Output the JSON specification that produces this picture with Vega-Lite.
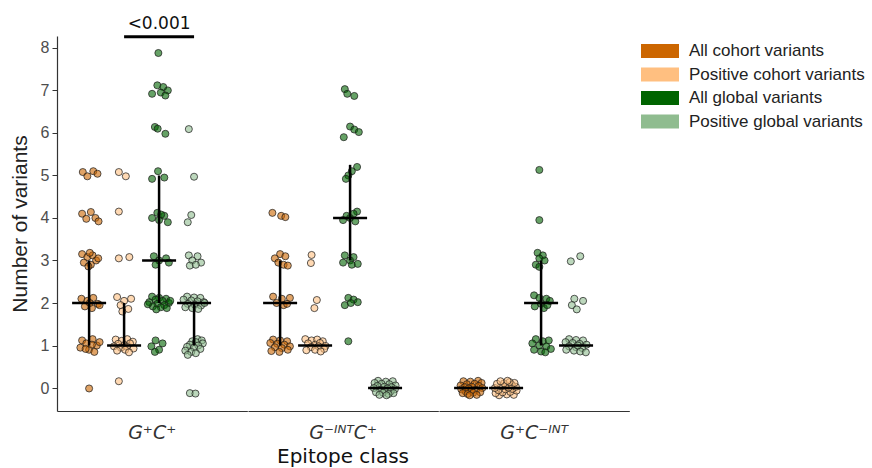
{
"$schema":"https://vega.github.io/schema/vega-lite/v6.json",
"padding":{"left":9,"top":14,"right":0,"bottom":0},
"background":"white",
"data":{"values":[
{"class":"G⁺C⁺","group":"All cohort variants","variants":5.08,"jitter":-0.18},
{"class":"G⁺C⁺","group":"All cohort variants","variants":4.98,"jitter":-0.05},
{"class":"G⁺C⁺","group":"All cohort variants","variants":5.1,"jitter":0.12},
{"class":"G⁺C⁺","group":"All cohort variants","variants":5.04,"jitter":0.24},
{"class":"G⁺C⁺","group":"All cohort variants","variants":4.1,"jitter":-0.2},
{"class":"G⁺C⁺","group":"All cohort variants","variants":3.98,"jitter":-0.08},
{"class":"G⁺C⁺","group":"All cohort variants","variants":4.14,"jitter":0.05},
{"class":"G⁺C⁺","group":"All cohort variants","variants":4.0,"jitter":0.18},
{"class":"G⁺C⁺","group":"All cohort variants","variants":3.92,"jitter":0.27},
{"class":"G⁺C⁺","group":"All cohort variants","variants":3.15,"jitter":-0.2},
{"class":"G⁺C⁺","group":"All cohort variants","variants":3.08,"jitter":-0.05},
{"class":"G⁺C⁺","group":"All cohort variants","variants":3.12,"jitter":0.1},
{"class":"G⁺C⁺","group":"All cohort variants","variants":3.0,"jitter":0.2},
{"class":"G⁺C⁺","group":"All cohort variants","variants":2.95,"jitter":-0.15},
{"class":"G⁺C⁺","group":"All cohort variants","variants":2.9,"jitter":0.05},
{"class":"G⁺C⁺","group":"All cohort variants","variants":3.05,"jitter":0.26},
{"class":"G⁺C⁺","group":"All cohort variants","variants":2.86,"jitter":-0.02},
{"class":"G⁺C⁺","group":"All cohort variants","variants":3.18,"jitter":0.02},
{"class":"G⁺C⁺","group":"All cohort variants","variants":2.1,"jitter":-0.22},
{"class":"G⁺C⁺","group":"All cohort variants","variants":2.05,"jitter":-0.05},
{"class":"G⁺C⁺","group":"All cohort variants","variants":2.12,"jitter":0.12},
{"class":"G⁺C⁺","group":"All cohort variants","variants":1.98,"jitter":0.25},
{"class":"G⁺C⁺","group":"All cohort variants","variants":1.92,"jitter":-0.12},
{"class":"G⁺C⁺","group":"All cohort variants","variants":1.88,"jitter":0.08},
{"class":"G⁺C⁺","group":"All cohort variants","variants":2.0,"jitter":0.02},
{"class":"G⁺C⁺","group":"All cohort variants","variants":1.95,"jitter":0.3},
{"class":"G⁺C⁺","group":"All cohort variants","variants":1.12,"jitter":-0.2},
{"class":"G⁺C⁺","group":"All cohort variants","variants":1.05,"jitter":-0.08},
{"class":"G⁺C⁺","group":"All cohort variants","variants":1.15,"jitter":0.1},
{"class":"G⁺C⁺","group":"All cohort variants","variants":1.0,"jitter":0.22},
{"class":"G⁺C⁺","group":"All cohort variants","variants":0.95,"jitter":-0.25},
{"class":"G⁺C⁺","group":"All cohort variants","variants":0.9,"jitter":0.0},
{"class":"G⁺C⁺","group":"All cohort variants","variants":0.85,"jitter":0.15},
{"class":"G⁺C⁺","group":"All cohort variants","variants":1.08,"jitter":0.3},
{"class":"G⁺C⁺","group":"All cohort variants","variants":0.92,"jitter":-0.1},
{"class":"G⁺C⁺","group":"All cohort variants","variants":1.02,"jitter":0.08},
{"class":"G⁺C⁺","group":"All cohort variants","variants":-0.01,"jitter":0.0},
{"class":"G⁺C⁺","group":"Positive cohort variants","variants":5.08,"jitter":-0.15},
{"class":"G⁺C⁺","group":"Positive cohort variants","variants":4.98,"jitter":0.05},
{"class":"G⁺C⁺","group":"Positive cohort variants","variants":4.15,"jitter":-0.15},
{"class":"G⁺C⁺","group":"Positive cohort variants","variants":3.05,"jitter":-0.15},
{"class":"G⁺C⁺","group":"Positive cohort variants","variants":3.08,"jitter":0.15},
{"class":"G⁺C⁺","group":"Positive cohort variants","variants":2.14,"jitter":-0.2},
{"class":"G⁺C⁺","group":"Positive cohort variants","variants":2.05,"jitter":0.0},
{"class":"G⁺C⁺","group":"Positive cohort variants","variants":2.1,"jitter":0.2},
{"class":"G⁺C⁺","group":"Positive cohort variants","variants":1.95,"jitter":-0.1},
{"class":"G⁺C⁺","group":"Positive cohort variants","variants":1.86,"jitter":0.12},
{"class":"G⁺C⁺","group":"Positive cohort variants","variants":1.8,"jitter":-0.05},
{"class":"G⁺C⁺","group":"Positive cohort variants","variants":1.14,"jitter":-0.24},
{"class":"G⁺C⁺","group":"Positive cohort variants","variants":1.11,"jitter":-0.07},
{"class":"G⁺C⁺","group":"Positive cohort variants","variants":1.15,"jitter":0.09},
{"class":"G⁺C⁺","group":"Positive cohort variants","variants":1.09,"jitter":0.25},
{"class":"G⁺C⁺","group":"Positive cohort variants","variants":1.04,"jitter":-0.17},
{"class":"G⁺C⁺","group":"Positive cohort variants","variants":1.01,"jitter":0.01},
{"class":"G⁺C⁺","group":"Positive cohort variants","variants":1.05,"jitter":0.17},
{"class":"G⁺C⁺","group":"Positive cohort variants","variants":0.98,"jitter":-0.29},
{"class":"G⁺C⁺","group":"Positive cohort variants","variants":0.95,"jitter":-0.09},
{"class":"G⁺C⁺","group":"Positive cohort variants","variants":0.97,"jitter":0.08},
{"class":"G⁺C⁺","group":"Positive cohort variants","variants":0.93,"jitter":0.27},
{"class":"G⁺C⁺","group":"Positive cohort variants","variants":0.88,"jitter":-0.2},
{"class":"G⁺C⁺","group":"Positive cohort variants","variants":0.9,"jitter":0.03},
{"class":"G⁺C⁺","group":"Positive cohort variants","variants":0.84,"jitter":0.14},
{"class":"G⁺C⁺","group":"Positive cohort variants","variants":0.16,"jitter":-0.15},
{"class":"G⁺C⁺","group":"All global variants","variants":7.88,"jitter":-0.02},
{"class":"G⁺C⁺","group":"All global variants","variants":7.12,"jitter":-0.05},
{"class":"G⁺C⁺","group":"All global variants","variants":7.08,"jitter":0.12},
{"class":"G⁺C⁺","group":"All global variants","variants":7.0,"jitter":0.25},
{"class":"G⁺C⁺","group":"All global variants","variants":6.92,"jitter":-0.2},
{"class":"G⁺C⁺","group":"All global variants","variants":6.95,"jitter":0.05},
{"class":"G⁺C⁺","group":"All global variants","variants":6.88,"jitter":0.18},
{"class":"G⁺C⁺","group":"All global variants","variants":6.14,"jitter":-0.12},
{"class":"G⁺C⁺","group":"All global variants","variants":6.1,"jitter":-0.04},
{"class":"G⁺C⁺","group":"All global variants","variants":5.98,"jitter":0.18},
{"class":"G⁺C⁺","group":"All global variants","variants":5.1,"jitter":-0.03},
{"class":"G⁺C⁺","group":"All global variants","variants":4.92,"jitter":-0.2},
{"class":"G⁺C⁺","group":"All global variants","variants":4.95,"jitter":0.15},
{"class":"G⁺C⁺","group":"All global variants","variants":4.12,"jitter":-0.05},
{"class":"G⁺C⁺","group":"All global variants","variants":4.05,"jitter":0.15},
{"class":"G⁺C⁺","group":"All global variants","variants":4.0,"jitter":-0.2},
{"class":"G⁺C⁺","group":"All global variants","variants":3.95,"jitter":0.0},
{"class":"G⁺C⁺","group":"All global variants","variants":3.9,"jitter":0.25},
{"class":"G⁺C⁺","group":"All global variants","variants":4.08,"jitter":0.06},
{"class":"G⁺C⁺","group":"All global variants","variants":3.1,"jitter":-0.15},
{"class":"G⁺C⁺","group":"All global variants","variants":3.05,"jitter":0.2},
{"class":"G⁺C⁺","group":"All global variants","variants":3.0,"jitter":0.0},
{"class":"G⁺C⁺","group":"All global variants","variants":2.9,"jitter":-0.1},
{"class":"G⁺C⁺","group":"All global variants","variants":2.95,"jitter":0.28},
{"class":"G⁺C⁺","group":"All global variants","variants":2.15,"jitter":-0.2},
{"class":"G⁺C⁺","group":"All global variants","variants":2.12,"jitter":0.0},
{"class":"G⁺C⁺","group":"All global variants","variants":2.1,"jitter":0.2},
{"class":"G⁺C⁺","group":"All global variants","variants":2.08,"jitter":-0.1},
{"class":"G⁺C⁺","group":"All global variants","variants":2.05,"jitter":0.1},
{"class":"G⁺C⁺","group":"All global variants","variants":2.02,"jitter":-0.28},
{"class":"G⁺C⁺","group":"All global variants","variants":2.0,"jitter":0.28},
{"class":"G⁺C⁺","group":"All global variants","variants":1.98,"jitter":-0.05},
{"class":"G⁺C⁺","group":"All global variants","variants":1.95,"jitter":0.15},
{"class":"G⁺C⁺","group":"All global variants","variants":1.92,"jitter":-0.18},
{"class":"G⁺C⁺","group":"All global variants","variants":1.9,"jitter":0.05},
{"class":"G⁺C⁺","group":"All global variants","variants":1.88,"jitter":0.22},
{"class":"G⁺C⁺","group":"All global variants","variants":1.85,"jitter":-0.08},
{"class":"G⁺C⁺","group":"All global variants","variants":2.05,"jitter":0.32},
{"class":"G⁺C⁺","group":"All global variants","variants":1.97,"jitter":-0.32},
{"class":"G⁺C⁺","group":"All global variants","variants":1.12,"jitter":-0.1},
{"class":"G⁺C⁺","group":"All global variants","variants":1.05,"jitter":0.1},
{"class":"G⁺C⁺","group":"All global variants","variants":0.98,"jitter":-0.22},
{"class":"G⁺C⁺","group":"All global variants","variants":0.9,"jitter":0.0},
{"class":"G⁺C⁺","group":"All global variants","variants":0.85,"jitter":-0.12},
{"class":"G⁺C⁺","group":"Positive global variants","variants":6.09,"jitter":-0.15},
{"class":"G⁺C⁺","group":"Positive global variants","variants":4.97,"jitter":0.0},
{"class":"G⁺C⁺","group":"Positive global variants","variants":4.07,"jitter":-0.08},
{"class":"G⁺C⁺","group":"Positive global variants","variants":3.9,"jitter":-0.18},
{"class":"G⁺C⁺","group":"Positive global variants","variants":3.12,"jitter":-0.15},
{"class":"G⁺C⁺","group":"Positive global variants","variants":3.1,"jitter":0.1},
{"class":"G⁺C⁺","group":"Positive global variants","variants":3.0,"jitter":-0.05},
{"class":"G⁺C⁺","group":"Positive global variants","variants":2.95,"jitter":0.2},
{"class":"G⁺C⁺","group":"Positive global variants","variants":2.88,"jitter":-0.12},
{"class":"G⁺C⁺","group":"Positive global variants","variants":2.9,"jitter":0.05},
{"class":"G⁺C⁺","group":"Positive global variants","variants":2.15,"jitter":-0.2},
{"class":"G⁺C⁺","group":"Positive global variants","variants":2.13,"jitter":0.0},
{"class":"G⁺C⁺","group":"Positive global variants","variants":2.12,"jitter":0.18},
{"class":"G⁺C⁺","group":"Positive global variants","variants":2.08,"jitter":-0.3},
{"class":"G⁺C⁺","group":"Positive global variants","variants":2.06,"jitter":-0.08},
{"class":"G⁺C⁺","group":"Positive global variants","variants":2.04,"jitter":0.1},
{"class":"G⁺C⁺","group":"Positive global variants","variants":2.02,"jitter":0.28},
{"class":"G⁺C⁺","group":"Positive global variants","variants":1.98,"jitter":-0.18},
{"class":"G⁺C⁺","group":"Positive global variants","variants":1.96,"jitter":0.02},
{"class":"G⁺C⁺","group":"Positive global variants","variants":1.94,"jitter":0.2},
{"class":"G⁺C⁺","group":"Positive global variants","variants":1.9,"jitter":-0.25},
{"class":"G⁺C⁺","group":"Positive global variants","variants":1.88,"jitter":-0.05},
{"class":"G⁺C⁺","group":"Positive global variants","variants":1.86,"jitter":0.12},
{"class":"G⁺C⁺","group":"Positive global variants","variants":2.0,"jitter":0.3},
{"class":"G⁺C⁺","group":"Positive global variants","variants":1.15,"jitter":0.1},
{"class":"G⁺C⁺","group":"Positive global variants","variants":1.12,"jitter":0.22},
{"class":"G⁺C⁺","group":"Positive global variants","variants":1.1,"jitter":-0.05},
{"class":"G⁺C⁺","group":"Positive global variants","variants":1.08,"jitter":0.05},
{"class":"G⁺C⁺","group":"Positive global variants","variants":1.05,"jitter":0.25},
{"class":"G⁺C⁺","group":"Positive global variants","variants":1.02,"jitter":-0.12},
{"class":"G⁺C⁺","group":"Positive global variants","variants":1.0,"jitter":0.12},
{"class":"G⁺C⁺","group":"Positive global variants","variants":0.97,"jitter":-0.2},
{"class":"G⁺C⁺","group":"Positive global variants","variants":0.95,"jitter":0.0},
{"class":"G⁺C⁺","group":"Positive global variants","variants":0.92,"jitter":0.18},
{"class":"G⁺C⁺","group":"Positive global variants","variants":0.88,"jitter":-0.25},
{"class":"G⁺C⁺","group":"Positive global variants","variants":0.85,"jitter":-0.08},
{"class":"G⁺C⁺","group":"Positive global variants","variants":0.82,"jitter":0.05},
{"class":"G⁺C⁺","group":"Positive global variants","variants":0.78,"jitter":-0.18},
{"class":"G⁺C⁺","group":"Positive global variants","variants":-0.12,"jitter":-0.12},
{"class":"G⁺C⁺","group":"Positive global variants","variants":-0.13,"jitter":0.04},
{"class":"G⁻ᴵᴺᵀC⁺","group":"All cohort variants","variants":4.12,"jitter":-0.22},
{"class":"G⁻ᴵᴺᵀC⁺","group":"All cohort variants","variants":4.05,"jitter":0.03},
{"class":"G⁻ᴵᴺᵀC⁺","group":"All cohort variants","variants":4.02,"jitter":0.15},
{"class":"G⁻ᴵᴺᵀC⁺","group":"All cohort variants","variants":3.15,"jitter":0.0},
{"class":"G⁻ᴵᴺᵀC⁺","group":"All cohort variants","variants":3.1,"jitter":0.15},
{"class":"G⁻ᴵᴺᵀC⁺","group":"All cohort variants","variants":3.05,"jitter":-0.15},
{"class":"G⁻ᴵᴺᵀC⁺","group":"All cohort variants","variants":2.95,"jitter":-0.05},
{"class":"G⁻ᴵᴺᵀC⁺","group":"All cohort variants","variants":2.9,"jitter":0.1},
{"class":"G⁻ᴵᴺᵀC⁺","group":"All cohort variants","variants":2.88,"jitter":0.22},
{"class":"G⁻ᴵᴺᵀC⁺","group":"All cohort variants","variants":2.15,"jitter":-0.2},
{"class":"G⁻ᴵᴺᵀC⁺","group":"All cohort variants","variants":2.1,"jitter":0.05},
{"class":"G⁻ᴵᴺᵀC⁺","group":"All cohort variants","variants":2.12,"jitter":0.28},
{"class":"G⁻ᴵᴺᵀC⁺","group":"All cohort variants","variants":2.0,"jitter":-0.1},
{"class":"G⁻ᴵᴺᵀC⁺","group":"All cohort variants","variants":1.95,"jitter":0.1},
{"class":"G⁻ᴵᴺᵀC⁺","group":"All cohort variants","variants":1.98,"jitter":0.2},
{"class":"G⁻ᴵᴺᵀC⁺","group":"All cohort variants","variants":1.14,"jitter":-0.2},
{"class":"G⁻ᴵᴺᵀC⁺","group":"All cohort variants","variants":1.12,"jitter":0.0},
{"class":"G⁻ᴵᴺᵀC⁺","group":"All cohort variants","variants":1.1,"jitter":0.2},
{"class":"G⁻ᴵᴺᵀC⁺","group":"All cohort variants","variants":1.06,"jitter":-0.28},
{"class":"G⁻ᴵᴺᵀC⁺","group":"All cohort variants","variants":1.04,"jitter":-0.08},
{"class":"G⁻ᴵᴺᵀC⁺","group":"All cohort variants","variants":1.02,"jitter":0.12},
{"class":"G⁻ᴵᴺᵀC⁺","group":"All cohort variants","variants":0.98,"jitter":0.28},
{"class":"G⁻ᴵᴺᵀC⁺","group":"All cohort variants","variants":0.96,"jitter":-0.15},
{"class":"G⁻ᴵᴺᵀC⁺","group":"All cohort variants","variants":0.94,"jitter":0.05},
{"class":"G⁻ᴵᴺᵀC⁺","group":"All cohort variants","variants":0.9,"jitter":0.22},
{"class":"G⁻ᴵᴺᵀC⁺","group":"All cohort variants","variants":0.87,"jitter":-0.25},
{"class":"G⁻ᴵᴺᵀC⁺","group":"All cohort variants","variants":0.85,"jitter":-0.02},
{"class":"G⁻ᴵᴺᵀC⁺","group":"Positive cohort variants","variants":3.13,"jitter":-0.1},
{"class":"G⁻ᴵᴺᵀC⁺","group":"Positive cohort variants","variants":2.94,"jitter":-0.12},
{"class":"G⁻ᴵᴺᵀC⁺","group":"Positive cohort variants","variants":2.07,"jitter":0.05},
{"class":"G⁻ᴵᴺᵀC⁺","group":"Positive cohort variants","variants":1.88,"jitter":-0.02},
{"class":"G⁻ᴵᴺᵀC⁺","group":"Positive cohort variants","variants":1.15,"jitter":-0.28},
{"class":"G⁻ᴵᴺᵀC⁺","group":"Positive cohort variants","variants":1.12,"jitter":-0.1},
{"class":"G⁻ᴵᴺᵀC⁺","group":"Positive cohort variants","variants":1.14,"jitter":0.06},
{"class":"G⁻ᴵᴺᵀC⁺","group":"Positive cohort variants","variants":1.1,"jitter":0.22},
{"class":"G⁻ᴵᴺᵀC⁺","group":"Positive cohort variants","variants":1.05,"jitter":-0.2},
{"class":"G⁻ᴵᴺᵀC⁺","group":"Positive cohort variants","variants":1.02,"jitter":0.0},
{"class":"G⁻ᴵᴺᵀC⁺","group":"Positive cohort variants","variants":1.06,"jitter":0.14},
{"class":"G⁻ᴵᴺᵀC⁺","group":"Positive cohort variants","variants":0.99,"jitter":0.3},
{"class":"G⁻ᴵᴺᵀC⁺","group":"Positive cohort variants","variants":0.96,"jitter":-0.12},
{"class":"G⁻ᴵᴺᵀC⁺","group":"Positive cohort variants","variants":0.98,"jitter":0.1},
{"class":"G⁻ᴵᴺᵀC⁺","group":"Positive cohort variants","variants":0.92,"jitter":0.26},
{"class":"G⁻ᴵᴺᵀC⁺","group":"Positive cohort variants","variants":0.89,"jitter":-0.25},
{"class":"G⁻ᴵᴺᵀC⁺","group":"Positive cohort variants","variants":0.9,"jitter":0.0},
{"class":"G⁻ᴵᴺᵀC⁺","group":"Positive cohort variants","variants":0.86,"jitter":0.16},
{"class":"G⁻ᴵᴺᵀC⁺","group":"All global variants","variants":7.03,"jitter":-0.15},
{"class":"G⁻ᴵᴺᵀC⁺","group":"All global variants","variants":6.87,"jitter":0.12},
{"class":"G⁻ᴵᴺᵀC⁺","group":"All global variants","variants":6.92,"jitter":-0.08},
{"class":"G⁻ᴵᴺᵀC⁺","group":"All global variants","variants":6.15,"jitter":0.0},
{"class":"G⁻ᴵᴺᵀC⁺","group":"All global variants","variants":6.08,"jitter":0.12},
{"class":"G⁻ᴵᴺᵀC⁺","group":"All global variants","variants":6.02,"jitter":0.25},
{"class":"G⁻ᴵᴺᵀC⁺","group":"All global variants","variants":5.9,"jitter":-0.18},
{"class":"G⁻ᴵᴺᵀC⁺","group":"All global variants","variants":5.2,"jitter":0.2},
{"class":"G⁻ᴵᴺᵀC⁺","group":"All global variants","variants":5.1,"jitter":0.05},
{"class":"G⁻ᴵᴺᵀC⁺","group":"All global variants","variants":5.0,"jitter":-0.05},
{"class":"G⁻ᴵᴺᵀC⁺","group":"All global variants","variants":4.92,"jitter":-0.12},
{"class":"G⁻ᴵᴺᵀC⁺","group":"All global variants","variants":4.15,"jitter":0.2},
{"class":"G⁻ᴵᴺᵀC⁺","group":"All global variants","variants":4.1,"jitter":0.1},
{"class":"G⁻ᴵᴺᵀC⁺","group":"All global variants","variants":4.05,"jitter":-0.1},
{"class":"G⁻ᴵᴺᵀC⁺","group":"All global variants","variants":4.0,"jitter":0.0},
{"class":"G⁻ᴵᴺᵀC⁺","group":"All global variants","variants":3.95,"jitter":-0.2},
{"class":"G⁻ᴵᴺᵀC⁺","group":"All global variants","variants":3.92,"jitter":0.15},
{"class":"G⁻ᴵᴺᵀC⁺","group":"All global variants","variants":3.12,"jitter":-0.15},
{"class":"G⁻ᴵᴺᵀC⁺","group":"All global variants","variants":3.08,"jitter":0.1},
{"class":"G⁻ᴵᴺᵀC⁺","group":"All global variants","variants":3.0,"jitter":0.0},
{"class":"G⁻ᴵᴺᵀC⁺","group":"All global variants","variants":2.95,"jitter":-0.2},
{"class":"G⁻ᴵᴺᵀC⁺","group":"All global variants","variants":2.9,"jitter":0.05},
{"class":"G⁻ᴵᴺᵀC⁺","group":"All global variants","variants":2.92,"jitter":0.22},
{"class":"G⁻ᴵᴺᵀC⁺","group":"All global variants","variants":2.12,"jitter":-0.05},
{"class":"G⁻ᴵᴺᵀC⁺","group":"All global variants","variants":2.08,"jitter":0.1},
{"class":"G⁻ᴵᴺᵀC⁺","group":"All global variants","variants":2.02,"jitter":0.22},
{"class":"G⁻ᴵᴺᵀC⁺","group":"All global variants","variants":1.95,"jitter":-0.15},
{"class":"G⁻ᴵᴺᵀC⁺","group":"All global variants","variants":2.0,"jitter":0.02},
{"class":"G⁻ᴵᴺᵀC⁺","group":"All global variants","variants":1.1,"jitter":-0.05},
{"class":"G⁻ᴵᴺᵀC⁺","group":"Positive global variants","variants":0.17,"jitter":-0.2},
{"class":"G⁻ᴵᴺᵀC⁺","group":"Positive global variants","variants":0.15,"jitter":0.02},
{"class":"G⁻ᴵᴺᵀC⁺","group":"Positive global variants","variants":0.16,"jitter":0.22},
{"class":"G⁻ᴵᴺᵀC⁺","group":"Positive global variants","variants":0.12,"jitter":-0.3},
{"class":"G⁻ᴵᴺᵀC⁺","group":"Positive global variants","variants":0.1,"jitter":-0.1},
{"class":"G⁻ᴵᴺᵀC⁺","group":"Positive global variants","variants":0.09,"jitter":0.12},
{"class":"G⁻ᴵᴺᵀC⁺","group":"Positive global variants","variants":0.06,"jitter":0.3},
{"class":"G⁻ᴵᴺᵀC⁺","group":"Positive global variants","variants":0.05,"jitter":-0.22},
{"class":"G⁻ᴵᴺᵀC⁺","group":"Positive global variants","variants":0.03,"jitter":-0.02},
{"class":"G⁻ᴵᴺᵀC⁺","group":"Positive global variants","variants":0.02,"jitter":0.18},
{"class":"G⁻ᴵᴺᵀC⁺","group":"Positive global variants","variants":0.0,"jitter":-0.32},
{"class":"G⁻ᴵᴺᵀC⁺","group":"Positive global variants","variants":-0.01,"jitter":0.07},
{"class":"G⁻ᴵᴺᵀC⁺","group":"Positive global variants","variants":-0.03,"jitter":0.28},
{"class":"G⁻ᴵᴺᵀC⁺","group":"Positive global variants","variants":-0.04,"jitter":-0.14},
{"class":"G⁻ᴵᴺᵀC⁺","group":"Positive global variants","variants":-0.06,"jitter":0.0},
{"class":"G⁻ᴵᴺᵀC⁺","group":"Positive global variants","variants":-0.08,"jitter":0.16},
{"class":"G⁻ᴵᴺᵀC⁺","group":"Positive global variants","variants":-0.1,"jitter":-0.26},
{"class":"G⁻ᴵᴺᵀC⁺","group":"Positive global variants","variants":-0.11,"jitter":-0.06},
{"class":"G⁻ᴵᴺᵀC⁺","group":"Positive global variants","variants":-0.12,"jitter":0.24},
{"class":"G⁻ᴵᴺᵀC⁺","group":"Positive global variants","variants":-0.14,"jitter":0.1},
{"class":"G⁻ᴵᴺᵀC⁺","group":"Positive global variants","variants":-0.16,"jitter":-0.16},
{"class":"G⁻ᴵᴺᵀC⁺","group":"Positive global variants","variants":-0.17,"jitter":0.04},
{"class":"G⁺C⁻ᴵᴺᵀ","group":"All cohort variants","variants":0.17,"jitter":0.2},
{"class":"G⁺C⁻ᴵᴺᵀ","group":"All cohort variants","variants":0.15,"jitter":-0.02},
{"class":"G⁺C⁻ᴵᴺᵀ","group":"All cohort variants","variants":0.16,"jitter":-0.22},
{"class":"G⁺C⁻ᴵᴺᵀ","group":"All cohort variants","variants":0.12,"jitter":0.3},
{"class":"G⁺C⁻ᴵᴺᵀ","group":"All cohort variants","variants":0.1,"jitter":0.1},
{"class":"G⁺C⁻ᴵᴺᵀ","group":"All cohort variants","variants":0.09,"jitter":-0.12},
{"class":"G⁺C⁻ᴵᴺᵀ","group":"All cohort variants","variants":0.06,"jitter":-0.3},
{"class":"G⁺C⁻ᴵᴺᵀ","group":"All cohort variants","variants":0.05,"jitter":0.22},
{"class":"G⁺C⁻ᴵᴺᵀ","group":"All cohort variants","variants":0.03,"jitter":0.02},
{"class":"G⁺C⁻ᴵᴺᵀ","group":"All cohort variants","variants":0.02,"jitter":-0.18},
{"class":"G⁺C⁻ᴵᴺᵀ","group":"All cohort variants","variants":0.0,"jitter":0.32},
{"class":"G⁺C⁻ᴵᴺᵀ","group":"All cohort variants","variants":-0.01,"jitter":-0.07},
{"class":"G⁺C⁻ᴵᴺᵀ","group":"All cohort variants","variants":-0.03,"jitter":-0.28},
{"class":"G⁺C⁻ᴵᴺᵀ","group":"All cohort variants","variants":-0.04,"jitter":0.14},
{"class":"G⁺C⁻ᴵᴺᵀ","group":"All cohort variants","variants":-0.06,"jitter":0.0},
{"class":"G⁺C⁻ᴵᴺᵀ","group":"All cohort variants","variants":-0.08,"jitter":-0.16},
{"class":"G⁺C⁻ᴵᴺᵀ","group":"All cohort variants","variants":-0.1,"jitter":0.26},
{"class":"G⁺C⁻ᴵᴺᵀ","group":"All cohort variants","variants":-0.11,"jitter":0.06},
{"class":"G⁺C⁻ᴵᴺᵀ","group":"All cohort variants","variants":-0.12,"jitter":-0.24},
{"class":"G⁺C⁻ᴵᴺᵀ","group":"All cohort variants","variants":-0.14,"jitter":-0.1},
{"class":"G⁺C⁻ᴵᴺᵀ","group":"All cohort variants","variants":-0.16,"jitter":0.16},
{"class":"G⁺C⁻ᴵᴺᵀ","group":"All cohort variants","variants":-0.17,"jitter":-0.04},
{"class":"G⁺C⁻ᴵᴺᵀ","group":"Positive cohort variants","variants":-0.17,"jitter":-0.2},
{"class":"G⁺C⁻ᴵᴺᵀ","group":"Positive cohort variants","variants":-0.15,"jitter":0.02},
{"class":"G⁺C⁻ᴵᴺᵀ","group":"Positive cohort variants","variants":-0.16,"jitter":0.22},
{"class":"G⁺C⁻ᴵᴺᵀ","group":"Positive cohort variants","variants":-0.12,"jitter":-0.3},
{"class":"G⁺C⁻ᴵᴺᵀ","group":"Positive cohort variants","variants":-0.1,"jitter":-0.1},
{"class":"G⁺C⁻ᴵᴺᵀ","group":"Positive cohort variants","variants":-0.09,"jitter":0.12},
{"class":"G⁺C⁻ᴵᴺᵀ","group":"Positive cohort variants","variants":-0.06,"jitter":0.3},
{"class":"G⁺C⁻ᴵᴺᵀ","group":"Positive cohort variants","variants":-0.05,"jitter":-0.22},
{"class":"G⁺C⁻ᴵᴺᵀ","group":"Positive cohort variants","variants":-0.03,"jitter":-0.02},
{"class":"G⁺C⁻ᴵᴺᵀ","group":"Positive cohort variants","variants":-0.02,"jitter":0.18},
{"class":"G⁺C⁻ᴵᴺᵀ","group":"Positive cohort variants","variants":0.0,"jitter":-0.32},
{"class":"G⁺C⁻ᴵᴺᵀ","group":"Positive cohort variants","variants":0.01,"jitter":0.07},
{"class":"G⁺C⁻ᴵᴺᵀ","group":"Positive cohort variants","variants":0.03,"jitter":0.28},
{"class":"G⁺C⁻ᴵᴺᵀ","group":"Positive cohort variants","variants":0.04,"jitter":-0.14},
{"class":"G⁺C⁻ᴵᴺᵀ","group":"Positive cohort variants","variants":0.06,"jitter":0.0},
{"class":"G⁺C⁻ᴵᴺᵀ","group":"Positive cohort variants","variants":0.08,"jitter":0.16},
{"class":"G⁺C⁻ᴵᴺᵀ","group":"Positive cohort variants","variants":0.1,"jitter":-0.26},
{"class":"G⁺C⁻ᴵᴺᵀ","group":"Positive cohort variants","variants":0.11,"jitter":-0.06},
{"class":"G⁺C⁻ᴵᴺᵀ","group":"Positive cohort variants","variants":0.12,"jitter":0.24},
{"class":"G⁺C⁻ᴵᴺᵀ","group":"Positive cohort variants","variants":0.14,"jitter":0.1},
{"class":"G⁺C⁻ᴵᴺᵀ","group":"Positive cohort variants","variants":0.16,"jitter":-0.16},
{"class":"G⁺C⁻ᴵᴺᵀ","group":"Positive cohort variants","variants":0.17,"jitter":0.04},
{"class":"G⁺C⁻ᴵᴺᵀ","group":"All global variants","variants":5.13,"jitter":-0.05},
{"class":"G⁺C⁻ᴵᴺᵀ","group":"All global variants","variants":3.95,"jitter":-0.05},
{"class":"G⁺C⁻ᴵᴺᵀ","group":"All global variants","variants":3.18,"jitter":-0.1},
{"class":"G⁺C⁻ᴵᴺᵀ","group":"All global variants","variants":3.12,"jitter":0.05},
{"class":"G⁺C⁻ᴵᴺᵀ","group":"All global variants","variants":3.05,"jitter":-0.05},
{"class":"G⁺C⁻ᴵᴺᵀ","group":"All global variants","variants":3.0,"jitter":0.1},
{"class":"G⁺C⁻ᴵᴺᵀ","group":"All global variants","variants":2.9,"jitter":-0.15},
{"class":"G⁺C⁻ᴵᴺᵀ","group":"All global variants","variants":2.85,"jitter":-0.05},
{"class":"G⁺C⁻ᴵᴺᵀ","group":"All global variants","variants":2.18,"jitter":-0.2},
{"class":"G⁺C⁻ᴵᴺᵀ","group":"All global variants","variants":2.12,"jitter":-0.05},
{"class":"G⁺C⁻ᴵᴺᵀ","group":"All global variants","variants":2.1,"jitter":0.15},
{"class":"G⁺C⁻ᴵᴺᵀ","group":"All global variants","variants":2.05,"jitter":0.25},
{"class":"G⁺C⁻ᴵᴺᵀ","group":"All global variants","variants":1.98,"jitter":0.0},
{"class":"G⁺C⁻ᴵᴺᵀ","group":"All global variants","variants":1.92,"jitter":-0.18},
{"class":"G⁺C⁻ᴵᴺᵀ","group":"All global variants","variants":1.88,"jitter":0.08},
{"class":"G⁺C⁻ᴵᴺᵀ","group":"All global variants","variants":1.95,"jitter":0.18},
{"class":"G⁺C⁻ᴵᴺᵀ","group":"All global variants","variants":1.15,"jitter":-0.15},
{"class":"G⁺C⁻ᴵᴺᵀ","group":"All global variants","variants":1.1,"jitter":0.05},
{"class":"G⁺C⁻ᴵᴺᵀ","group":"All global variants","variants":1.12,"jitter":0.22},
{"class":"G⁺C⁻ᴵᴺᵀ","group":"All global variants","variants":1.05,"jitter":-0.25},
{"class":"G⁺C⁻ᴵᴺᵀ","group":"All global variants","variants":1.0,"jitter":-0.05},
{"class":"G⁺C⁻ᴵᴺᵀ","group":"All global variants","variants":0.98,"jitter":0.15},
{"class":"G⁺C⁻ᴵᴺᵀ","group":"All global variants","variants":0.92,"jitter":0.28},
{"class":"G⁺C⁻ᴵᴺᵀ","group":"All global variants","variants":0.9,"jitter":-0.2},
{"class":"G⁺C⁻ᴵᴺᵀ","group":"All global variants","variants":0.86,"jitter":0.0},
{"class":"G⁺C⁻ᴵᴺᵀ","group":"All global variants","variants":0.84,"jitter":0.12},
{"class":"G⁺C⁻ᴵᴺᵀ","group":"Positive global variants","variants":3.1,"jitter":0.12},
{"class":"G⁺C⁻ᴵᴺᵀ","group":"Positive global variants","variants":2.98,"jitter":-0.15},
{"class":"G⁺C⁻ᴵᴺᵀ","group":"Positive global variants","variants":2.1,"jitter":-0.05},
{"class":"G⁺C⁻ᴵᴺᵀ","group":"Positive global variants","variants":2.05,"jitter":0.2},
{"class":"G⁺C⁻ᴵᴺᵀ","group":"Positive global variants","variants":1.95,"jitter":-0.12},
{"class":"G⁺C⁻ᴵᴺᵀ","group":"Positive global variants","variants":1.85,"jitter":0.02},
{"class":"G⁺C⁻ᴵᴺᵀ","group":"Positive global variants","variants":1.15,"jitter":-0.2},
{"class":"G⁺C⁻ᴵᴺᵀ","group":"Positive global variants","variants":1.13,"jitter":0.0},
{"class":"G⁺C⁻ᴵᴺᵀ","group":"Positive global variants","variants":1.12,"jitter":0.2},
{"class":"G⁺C⁻ᴵᴺᵀ","group":"Positive global variants","variants":1.08,"jitter":-0.3},
{"class":"G⁺C⁻ᴵᴺᵀ","group":"Positive global variants","variants":1.06,"jitter":-0.1},
{"class":"G⁺C⁻ᴵᴺᵀ","group":"Positive global variants","variants":1.04,"jitter":0.1},
{"class":"G⁺C⁻ᴵᴺᵀ","group":"Positive global variants","variants":1.02,"jitter":0.3},
{"class":"G⁺C⁻ᴵᴺᵀ","group":"Positive global variants","variants":0.98,"jitter":-0.2},
{"class":"G⁺C⁻ᴵᴺᵀ","group":"Positive global variants","variants":0.96,"jitter":0.0},
{"class":"G⁺C⁻ᴵᴺᵀ","group":"Positive global variants","variants":0.94,"jitter":0.18},
{"class":"G⁺C⁻ᴵᴺᵀ","group":"Positive global variants","variants":0.9,"jitter":-0.28},
{"class":"G⁺C⁻ᴵᴺᵀ","group":"Positive global variants","variants":0.88,"jitter":-0.06},
{"class":"G⁺C⁻ᴵᴺᵀ","group":"Positive global variants","variants":0.86,"jitter":0.12},
{"class":"G⁺C⁻ᴵᴺᵀ","group":"Positive global variants","variants":0.84,"jitter":0.28},
{"class":"G⁺C⁻ᴵᴺᵀ","group":"Positive global variants","variants":1.0,"jitter":0.05},
{"kind":"summary","class":"G⁺C⁺","group":"All cohort variants","median":2,"low":1,"high":3},
{"kind":"summary","class":"G⁺C⁺","group":"Positive cohort variants","median":1,"low":1,"high":2},
{"kind":"summary","class":"G⁺C⁺","group":"All global variants","median":3,"low":2,"high":5},
{"kind":"summary","class":"G⁺C⁺","group":"Positive global variants","median":2,"low":1,"high":2},
{"kind":"summary","class":"G⁻ᴵᴺᵀC⁺","group":"All cohort variants","median":2,"low":1,"high":3},
{"kind":"summary","class":"G⁻ᴵᴺᵀC⁺","group":"Positive cohort variants","median":1,"low":1,"high":1},
{"kind":"summary","class":"G⁻ᴵᴺᵀC⁺","group":"All global variants","median":4,"low":3,"high":5.25},
{"kind":"summary","class":"G⁻ᴵᴺᵀC⁺","group":"Positive global variants","median":0,"low":0,"high":0},
{"kind":"summary","class":"G⁺C⁻ᴵᴺᵀ","group":"All cohort variants","median":0,"low":0,"high":0},
{"kind":"summary","class":"G⁺C⁻ᴵᴺᵀ","group":"Positive cohort variants","median":0,"low":0,"high":0},
{"kind":"summary","class":"G⁺C⁻ᴵᴺᵀ","group":"All global variants","median":2,"low":1,"high":3},
{"kind":"summary","class":"G⁺C⁻ᴵᴺᵀ","group":"Positive global variants","median":1,"low":1,"high":1},
{"kind":"annotation","class":"G⁺C⁺","from":"Positive cohort variants","to":"Positive global variants","label":"<0.001","y":8.26}
]},
"facet":{"column":{"field":"class","type":"nominal","sort":["G⁺C⁺","G⁻ᴵᴺᵀC⁺","G⁺C⁻ᴵᴺᵀ"],
  "header":{"title":"Epitope class","titleOrient":"bottom","labelOrient":"bottom","labelFont":"DejaVu Sans","labelFontStyle":"italic","labelFontSize":19,"labelColor":"#333333","labelPadding":13,"titleFont":"DejaVu Sans","titleFontSize":20,"titleFontWeight":"normal","titleColor":"#111111","titlePadding":-6}}},
"spacing":{"column":0},
"spec":{
  "width":190.33,"height":375,
  "encoding":{
    "x":{"field":"group","type":"nominal",
      "scale":{"domain":["All cohort variants","Positive cohort variants","All global variants","Positive global variants"],"paddingInner":0,"paddingOuter":0.72,"align":0.29},
      "axis":{"domain":true,"ticks":false,"labels":false,"title":null,"domainColor":"#333333","domainWidth":1.2}}
  },
  "layer":[
    {"transform":[{"filter":"datum.kind == null"}],
     "mark":{"type":"point","shape":"circle","filled":true,"size":50,"fillOpacity":0.6,"stroke":"#1a1a1a","strokeWidth":0.9,"strokeOpacity":0.8},
     "encoding":{
       "xOffset":{"field":"jitter","type":"quantitative","scale":{"domain":[-0.5,0.5]}},
       "y":{"field":"variants","type":"quantitative","scale":{"domain":[-0.54,8.28],"nice":false,"zero":false},
            "axis":{"title":"Number of variants","values":[0,1,2,3,4,5,6,7,8],"grid":false}},
       "color":{"field":"group","type":"nominal",
         "scale":{"domain":["All cohort variants","Positive cohort variants","All global variants","Positive global variants"],"range":["#cc6600","#ffbf80","#006400","#8fbc8f"]},
         "legend":{"title":null,"orient":"right","offset":6,"padding":5,"labelFont":"Liberation Sans","labelFontSize":17,"labelColor":"#222222","labelLimit":300,"labelOffset":10,"symbolType":"M-1,-0.368H1V0.368H-1Z","symbolSize":1444,"symbolStrokeWidth":0,"symbolOpacity":1,"clipHeight":20,"rowPadding":3.5,
           "encode":{"symbols":{"update":{"fillOpacity":{"value":1},"strokeWidth":{"value":0}}}}}}
     }},
    {"transform":[{"filter":{"field":"kind","equal":"summary"}}],
     "mark":{"type":"rule","strokeWidth":2.5,"color":"black"},
     "encoding":{
       "y":{"field":"low","type":"quantitative","scale":{"domain":[-0.54,8.28],"nice":false,"zero":false},"axis":{"title":"Number of variants","values":[0,1,2,3,4,5,6,7,8],"grid":false}},
       "y2":{"field":"high"}}},
    {"transform":[{"filter":{"field":"kind","equal":"summary"}}],
     "mark":{"type":"tick","thickness":2.5,"size":34,"color":"black","opacity":1},
     "encoding":{
       "y":{"field":"median","type":"quantitative","scale":{"domain":[-0.54,8.28],"nice":false,"zero":false},"axis":{"title":"Number of variants","values":[0,1,2,3,4,5,6,7,8],"grid":false}}}},
    {"transform":[{"filter":{"field":"kind","equal":"annotation"}}],
     "mark":{"type":"rule","strokeWidth":3,"color":"black"},
     "encoding":{
       "x":{"field":"from","type":"nominal"},
       "x2":{"field":"to"},
       "y":{"field":"y","type":"quantitative","scale":{"domain":[-0.54,8.28],"nice":false,"zero":false},"axis":{"title":"Number of variants","values":[0,1,2,3,4,5,6,7,8],"grid":false}}}},
    {"transform":[{"filter":{"field":"kind","equal":"annotation"}}],
     "mark":{"type":"text","font":"DejaVu Sans","fontSize":17,"color":"#111111","baseline":"alphabetic","dy":-8},
     "encoding":{
       "x":{"datum":"All global variants","type":"nominal"},
       "y":{"field":"y","type":"quantitative","scale":{"domain":[-0.54,8.28],"nice":false,"zero":false},"axis":{"title":"Number of variants","values":[0,1,2,3,4,5,6,7,8],"grid":false}},
       "text":{"field":"label"}}}
  ]
},
"config":{
  "view":{"stroke":null},
  "axis":{"labelFont":"Liberation Sans","titleFont":"Liberation Sans"},
  "axisY":{"domainColor":"#333333","domainWidth":1.2,"tickColor":"#333333","tickSize":5,"labelFontSize":16,"labelColor":"#4d4d4d","labelPadding":3,"titleFontSize":21,"titleFontWeight":"normal","titleColor":"#222222","titlePadding":10}
}
}
